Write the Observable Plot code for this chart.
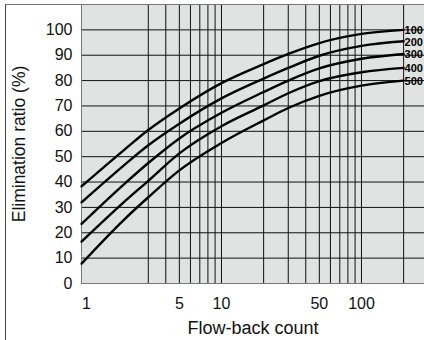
<!DOCTYPE html>
<html>
<head>
<meta charset="utf-8">
<script src="https://cdn.jsdelivr.net/npm/d3@7"></script>
<script src="https://cdn.jsdelivr.net/npm/@observablehq/plot@0.6"></script>
<style>
  html, body { margin: 0; padding: 0; background: #fff; }
  #wrap { position: relative; width: 424px; height: 340px; overflow: hidden; }
  #wrap svg { display: block; }
  #outer { position: absolute; left: 5px; top: 4px; width: 600px; height: 600px;
           border-left: 1px solid #444; border-top: 1px solid #777; pointer-events: none; }
</style>
</head>
<body>
<div id="wrap"><div id="outer"></div></div>
<script>
// Flow-back count sample points
const flowBack = [1, 2, 3, 5, 10, 20, 30, 50, 100, 200];
// Elimination ratio (%) per series
const series100 = [38.3, 52.5, 60.5, 69.0, 79.0, 86.5, 90.5, 94.8, 98.4, 100.0];
const series200 = [32.0, 46.5, 54.5, 63.0, 73.0, 80.8, 85.0, 89.8, 93.7, 95.5];
const series300 = [23.5, 39.0, 47.5, 57.2, 67.3, 75.5, 80.0, 84.8, 88.6, 90.5];
const series400 = [16.5, 32.0, 40.5, 51.3, 62.0, 70.2, 75.0, 79.8, 83.3, 85.0];
const series500 = [7.8, 25.0, 34.0, 44.6, 55.4, 64.3, 69.2, 74.0, 78.0, 80.0];
const seriesNames = ["100", "200", "300", "400", "500"];

// Grid and tick values
const xGrid = [3, 4, 5, 6, 7, 8, 9, 10, 20, 30, 40, 50, 60, 70, 80, 90, 100, 200];
const yGrid = [10, 20, 30, 40, 50, 60, 70, 80, 90, 100];
const xTicksMain = [5, 10, 50, 100];
const xTickFirst = [1];
const yTicks = [0, 10, 20, 30, 40, 50, 60, 70, 80, 90, 100];
const xLabel = "Flow-back count";
const yLabel = "Elimination ratio (%)";

const allSeries = [series100, series200, series300, series400, series500];
const rows = [];
allSeries.forEach((vals, i) => vals.forEach((v, j) => rows.push({series: seriesNames[i], x: flowBack[j], y: v})));
const ends = allSeries.map((vals, i) => ({series: seriesNames[i], x: flowBack[flowBack.length - 1], y: vals[vals.length - 1]}));

const font = "'Liberation Sans', Arial, Helvetica, sans-serif";

const chart = Plot.plot({
  width: 424,
  height: 340,
  marginLeft: 81,
  marginRight: 0,
  marginTop: 4,
  marginBottom: 57,
  style: {fontFamily: font, fontSize: "16px", background: "transparent", color: "#111", overflow: "visible"},
  x: {type: "log", domain: [1, 282], axis: null},
  y: {domain: [0, 110], axis: null},
  marks: [
    Plot.frame({fill: "#e1e2e2", stroke: null}),
    Plot.ruleX(xGrid, {stroke: "#111", strokeWidth: 1}),
    Plot.ruleY(yGrid, {stroke: "#111", strokeWidth: 1}),
    Plot.ruleX([1], {stroke: "#777", strokeWidth: 1}),
    Plot.ruleY([0], {stroke: "#777", strokeWidth: 1}),
    Plot.line(rows, {x: "x", y: "y", z: "series", stroke: "#000", strokeWidth: 2.4, curve: "monotone-x"}),
    Plot.text(ends, {x: "x", y: "y", text: "series", textAnchor: "start", dx: 1, dy: 1,
                     fontWeight: "bold", fontSize: 11, fill: "#000"}),
    Plot.text(yTicks, {y: d => d, frameAnchor: "left", textAnchor: "end", dx: -9, text: d => String(d), fontSize: 16, fill: "#111"}),
    Plot.text(xTicksMain, {x: d => d, frameAnchor: "bottom", lineAnchor: "top", dy: 14, text: d => String(d), fontSize: 16, fill: "#111"}),
    Plot.text(xTickFirst, {x: d => d, frameAnchor: "bottom", lineAnchor: "top", dy: 14, dx: 5, text: d => String(d), fontSize: 16, fill: "#111"}),
    Plot.text([yLabel], {frameAnchor: "left", textAnchor: "middle", text: d => d, rotate: -90, dx: -62, fontSize: 17.5, lineAnchor: "middle", fill: "#111"}),
    Plot.text([xLabel], {frameAnchor: "bottom", text: d => d, dy: 45, fontSize: 18, lineAnchor: "middle", fill: "#111"})
  ]
});
const wrap = document.getElementById("wrap");
wrap.insertBefore(chart, wrap.firstChild);
</script>
</body>
</html>
